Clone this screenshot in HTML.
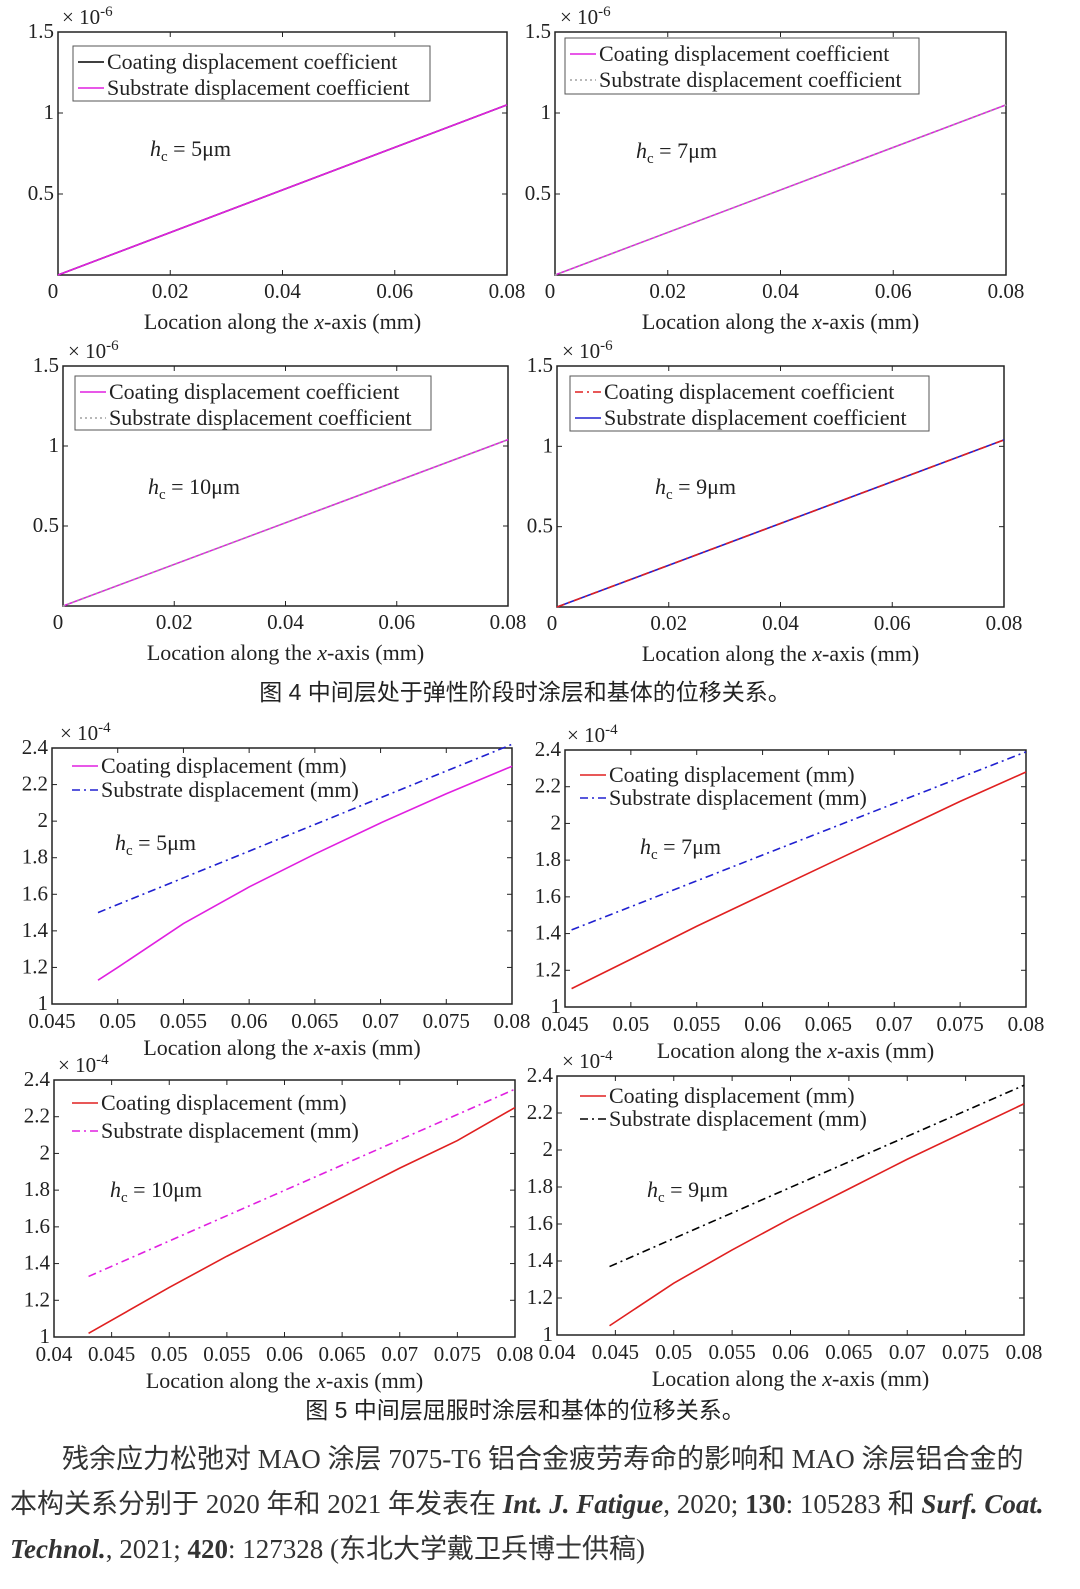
<!DOCTYPE html>
<html><head><meta charset="utf-8"><style>
body{margin:0;background:#fff;width:1080px;height:1589px;overflow:hidden}
svg{position:absolute;left:0;top:0}
.t{font-family:"Liberation Serif","Noto Serif CJK SC",serif;font-size:22px;fill:#222}
.tk{font-family:"Liberation Serif",serif;font-size:21px;fill:#222}
.cap{font-family:"Liberation Sans","Noto Sans CJK SC",sans-serif;font-size:23px;fill:#222}
.par{font-family:"Liberation Serif","Noto Sans CJK SC",serif;font-size:27px;fill:#333}
</style></head><body>
<svg id="s" width="1080" height="1589" xmlns="http://www.w3.org/2000/svg">
<text class="cap" x="525" y="700" text-anchor="middle">图 4  中间层处于弹性阶段时涂层和基体的位移关系。</text>
<text class="cap" x="525" y="1418" text-anchor="middle">图 5  中间层屈服时涂层和基体的位移关系。</text>
<text class="par" x="62" y="1468">残余应力松弛对 MAO 涂层 7075-T6 铝合金疲劳寿命的影响和 MAO 涂层铝合金的</text>
<text class="par" x="10" y="1513">本构关系分别于 2020 年和 2021 年发表在 <tspan font-weight="bold" font-style="italic">Int. J. Fatigue</tspan>, 2020; <tspan font-weight="bold">130</tspan>: 105283 和 <tspan font-weight="bold" font-style="italic">Surf. Coat.</tspan></text>
<text class="par" x="10" y="1558"><tspan font-weight="bold" font-style="italic">Technol.</tspan>, 2021; <tspan font-weight="bold">420</tspan>: 127328 (东北大学戴卫兵博士供稿)</text>
</svg>
<script>
// ---- data ----
const p1X=[0,0.08], p1Coat=[0,1.05], p1Sub=[0,1.05];
const p2X=[0,0.08], p2Coat=[0,1.05], p2Sub=[0,1.05];
const p3X=[0,0.08], p3Coat=[0,1.04], p3Sub=[0,1.04];
const p4X=[0,0.08], p4Coat=[0,1.04], p4Sub=[0,1.04];
const p5X=[0.0485,0.05,0.055,0.06,0.065,0.07,0.075,0.08];
const p5Coat=[1.13,1.2,1.44,1.64,1.82,1.99,2.15,2.3];
const p5SubX=[0.0485,0.08], p5Sub=[1.5,2.42];
const p6X=[0.0455,0.05,0.055,0.06,0.065,0.07,0.075,0.08];
const p6Coat=[1.1,1.26,1.44,1.61,1.78,1.95,2.12,2.28];
const p6SubX=[0.0455,0.08], p6Sub=[1.42,2.39];
const p7X=[0.043,0.05,0.055,0.06,0.065,0.07,0.075,0.08];
const p7Coat=[1.02,1.27,1.44,1.6,1.76,1.92,2.07,2.25];
const p7SubX=[0.043,0.08], p7Sub=[1.33,2.35];
const p8X=[0.0445,0.05,0.055,0.06,0.065,0.07,0.075,0.08];
const p8Coat=[1.05,1.28,1.46,1.63,1.79,1.95,2.1,2.25];
const p8SubX=[0.0445,0.08], p8Sub=[1.37,2.35];
const topXTicks=[0,0.02,0.04,0.06,0.08], topYTicks=[0,0.5,1,1.5];
const botXTicksA=[0.045,0.05,0.055,0.06,0.065,0.07,0.075,0.08];
const botXTicksB=[0.04,0.045,0.05,0.055,0.06,0.065,0.07,0.075,0.08];
const botYTicks=[1,1.2,1.4,1.6,1.8,2,2.2,2.4];
const legA=["Coating displacement coefficient","Substrate displacement coefficient"];
const legB=["Coating displacement (mm)","Substrate displacement (mm)"];

const NS="http://www.w3.org/2000/svg", S=document.getElementById('s');
function mk(tag,a,p){const e=document.createElementNS(NS,tag);for(const k in a)e.setAttribute(k,a[k]);(p||S).appendChild(e);return e;}
const DD="8,4,2,4", DOT="2,3";
const plots=[
 {n:'p1',L:58,R:507,T:32,B:275,x0:0,x1:0.08,y0:0,y1:1.5,xt:topXTicks,yt:topYTicks,exp:'-6',expX:62,top:true,
  s:[[p1X,p1Coat,'#000',''],[p1X,p1Sub,'#e020e0','']],leg:legA,lb:[73,46,357,55],hc:[150,150,'5']},
 {n:'p2',L:555,R:1006,T:32,B:275,x0:0,x1:0.08,y0:0,y1:1.5,xt:topXTicks,yt:topYTicks,exp:'-6',expX:560,top:true,
  s:[[p2X,p2Coat,'#e020e0',''],[p2X,p2Sub,'#a0a0a0',DOT]],leg:legA,lb:[565,38,354,56],hc:[636,152,'7']},
 {n:'p3',L:63,R:508,T:366,B:606,x0:0,x1:0.08,y0:0,y1:1.5,xt:topXTicks,yt:topYTicks,exp:'-6',expX:68,top:true,
  s:[[p3X,p3Coat,'#e020e0',''],[p3X,p3Sub,'#a0a0a0',DOT]],leg:legA,lb:[75,376,356,54],hc:[148,488,'10']},
 {n:'p4',L:557,R:1004,T:366,B:607,x0:0,x1:0.08,y0:0,y1:1.5,xt:topXTicks,yt:topYTicks,exp:'-6',expX:562,top:true,
  s:[[p4X,p4Sub,'#2020d0',''],[p4X,p4Coat,'#e02020',DD]],leg:legA,legS:[['#e02020',DD],['#2020d0','']],lb:[570,376,359,55],hc:[655,488,'9']},
 {n:'p5',L:52,R:512,T:748,B:1004,x0:0.045,x1:0.08,y0:1,y1:2.4,xt:botXTicksA,yt:botYTicks,exp:'-4',expX:60,
  s:[[p5X,p5Coat,'#e020e0',''],[p5SubX,p5Sub,'#2020d0',DD]],leg:legB,legY:[766,790],legX:72,hc:[115,844,'5']},
 {n:'p6',L:565,R:1026,T:750,B:1007,x0:0.045,x1:0.08,y0:1,y1:2.4,xt:botXTicksA,yt:botYTicks,exp:'-4',expX:567,
  s:[[p6X,p6Coat,'#e02020',''],[p6SubX,p6Sub,'#2020d0',DD]],leg:legB,legY:[775,798],legX:580,hc:[640,848,'7']},
 {n:'p7',L:54,R:515,T:1080,B:1337,x0:0.04,x1:0.08,y0:1,y1:2.4,xt:botXTicksB,yt:botYTicks,exp:'-4',expX:58,
  s:[[p7X,p7Coat,'#e02020',''],[p7SubX,p7Sub,'#e020e0',DD]],leg:legB,legY:[1103,1131],legX:72,hc:[110,1191,'10']},
 {n:'p8',L:557,R:1024,T:1076,B:1335,x0:0.04,x1:0.08,y0:1,y1:2.4,xt:botXTicksB,yt:botYTicks,exp:'-4',expX:562,
  s:[[p8X,p8Coat,'#e02020',''],[p8SubX,p8Sub,'#000',DD]],leg:legB,legY:[1096,1119],legX:580,hc:[647,1191,'9']}
];
plots.forEach(p=>{
 const g=mk('g',{});
 
 
 const X=v=>p.L+(v-p.x0)/(p.x1-p.x0)*(p.R-p.L), Y=v=>p.B-(v-p.y0)/(p.y1-p.y0)*(p.B-p.T);
 const box=mk('rect',{x:p.L,y:p.T,width:p.R-p.L,height:p.B-p.T,fill:'#fff',stroke:'#222','stroke-width':1.5},g);
 
 
 p.xt.forEach((v,i)=>{
  const x=X(v);
  mk('line',{x1:x,x2:x,y1:p.B,y2:p.B-5,stroke:'#222'},g);mk('line',{x1:x,x2:x,y1:p.T,y2:p.T+5,stroke:'#222'},g);
  const t=mk('text',{class:'tk',x:p.top&&i==0?x-5:x,y:p.B+(p.top?23:24),'text-anchor':'middle'},g);
  
  
  t.textContent=String(v);
 });
 p.yt.forEach(v=>{
  const y=Y(v);
  mk('line',{x1:p.L,x2:p.L+5,y1:y,y2:y,stroke:'#222'},g);mk('line',{x1:p.R,x2:p.R-5,y1:y,y2:y,stroke:'#222'},g);
  if(p.top&&v==0)return;
  const t=mk('text',{class:'tk',x:p.L-4,y:y+6,'text-anchor':'end'},g);
  
  
  t.textContent=String(v);
 });
 const e=mk('text',{class:'tk',x:p.expX,y:p.T-8},g);
 
 
 e.innerHTML='× 10<tspan dy="-8" font-size="15">'+p.exp+'</tspan>';
 const xt=mk('text',{class:'t',x:(p.L+p.R)/2,y:p.B+(p.top?54:51),'text-anchor':'middle'},g);
 
 
 xt.innerHTML='Location along the <tspan font-style="italic">x</tspan>-axis (mm)';
 p.s.forEach((s,i)=>{
  const pts=s[0].map((xv,k)=>X(xv)+','+Y(s[1][k])).join(' ');
  const l=mk('polyline',{points:pts,fill:'none',stroke:s[2],'stroke-width':1.6,'stroke-dasharray':s[3]||'none'},g);
  
  
 });
 const ls=p.legS||p.s.map(s=>[s[2],s[3]]);
 let ly,lx;
 if(p.lb){mk('rect',{x:p.lb[0],y:p.lb[1],width:p.lb[2],height:p.lb[3],fill:'#fff',stroke:'#555'},g);
  ly=[p.lb[1]+16,p.lb[1]+42];lx=p.lb[0]+5;} else {ly=p.legY;lx=p.legX;}
 p.leg.forEach((txt,i)=>{
  mk('line',{x1:lx,x2:lx+26,y1:ly[i],y2:ly[i],stroke:ls[i][0],'stroke-width':1.6,'stroke-dasharray':ls[i][1]||'none'},g);
  const t=mk('text',{class:'t',x:lx+29,y:ly[i]+7},g);
  
  
  t.textContent=txt;
 });
 const h=mk('text',{class:'t',x:p.hc[0],y:p.hc[1]+6},g);
 
 
 h.innerHTML='<tspan font-style="italic">h</tspan><tspan dy="5" font-size="15">c</tspan><tspan dy="-5"> = '+p.hc[2]+'μm</tspan>';
});
</script>
</body></html>
